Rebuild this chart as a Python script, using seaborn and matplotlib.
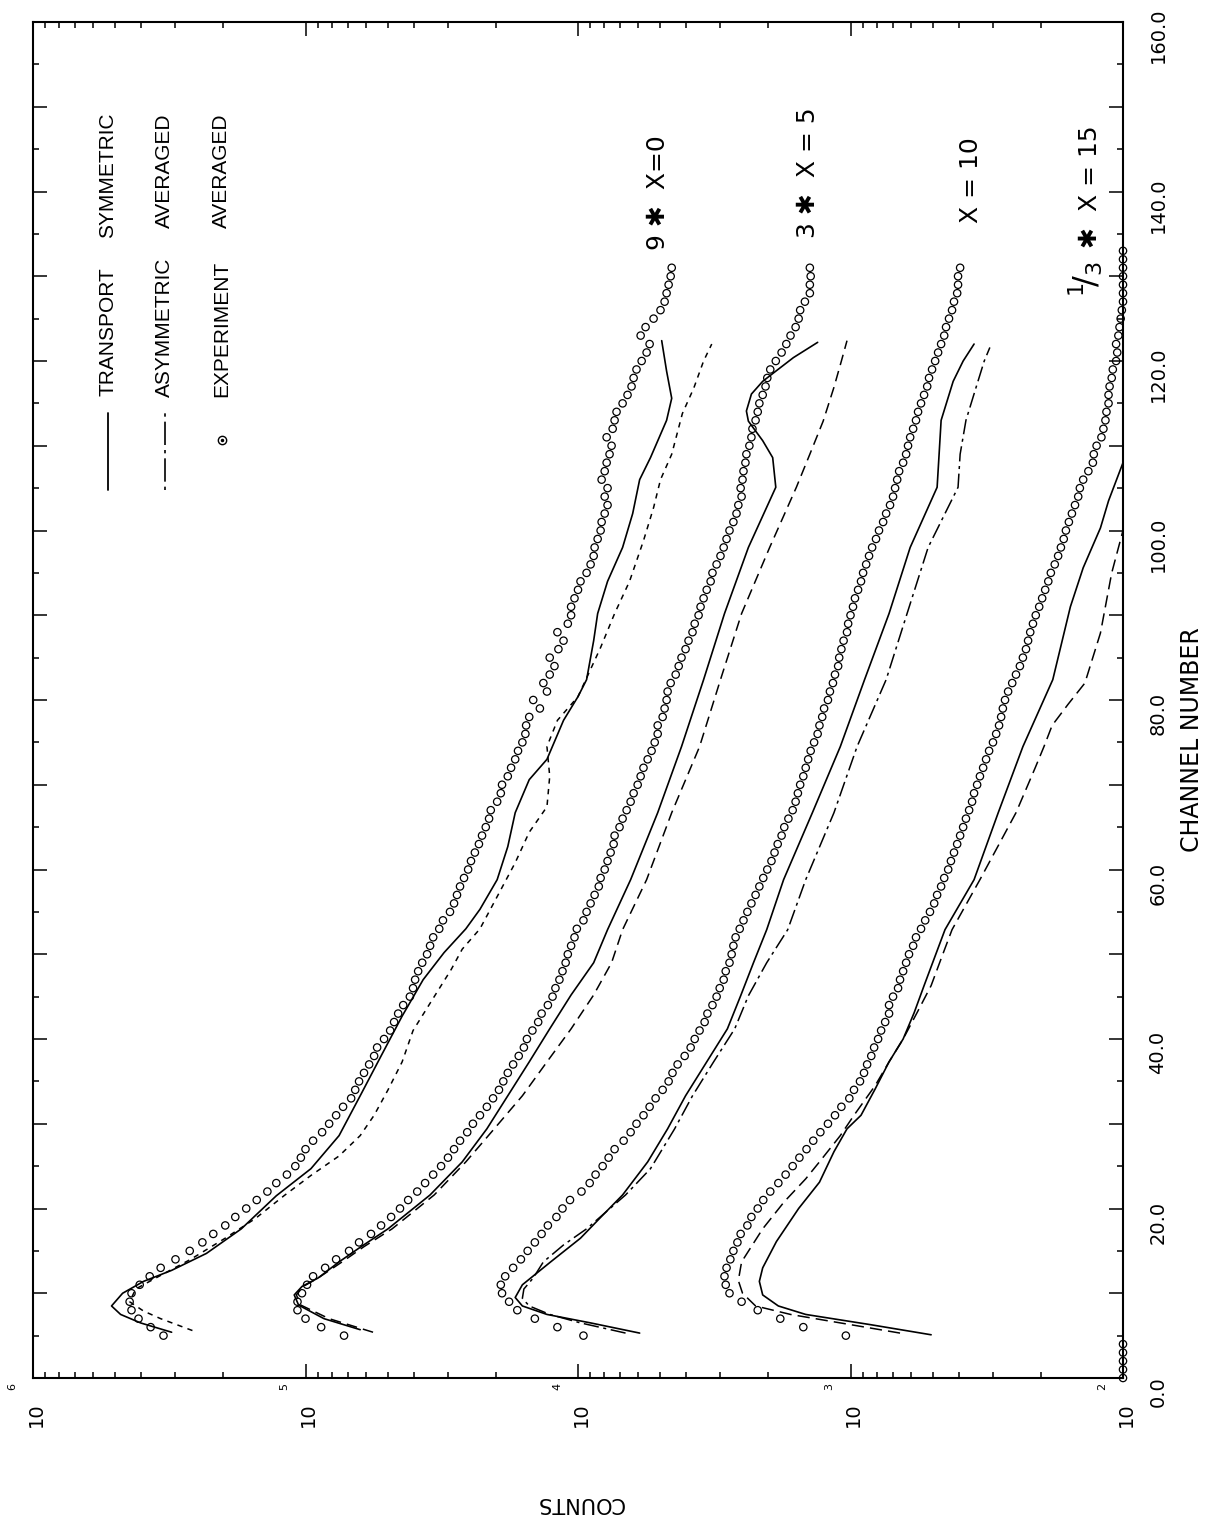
import numpy as np
import seaborn as sns
import matplotlib.pyplot as plt
from matplotlib.ticker import LogLocator, MultipleLocator, NullFormatter
from matplotlib.transforms import blended_transform_factory, offset_copy

# experiment points: one per channel
exp_channels = np.arange(5, 132)
exp_channels_x15 = np.arange(0, 134)

exp_x0 = [3.32e5, 3.70e5, 4.10e5, 4.35e5, 4.42e5, 4.35e5, 4.06e5, 3.73e5, 3.40e5, 3.00e5,
          2.66e5, 2.39e5, 2.18e5, 1.97e5, 1.81e5, 1.65e5, 1.51e5, 1.38e5, 1.28e5, 1.17e5,
          1.09e5, 1.04e5, 1.00e5, 9.38e4, 8.69e4, 8.19e4, 7.72e4, 7.28e4, 6.80e4, 6.57e4,
          6.36e4, 6.10e4, 5.84e4, 5.60e4, 5.46e4, 5.15e4, 4.89e4, 4.73e4, 4.57e4, 4.38e4,
          4.14e4, 4.03e4, 3.96e4, 3.86e4, 3.73e4, 3.58e4, 3.49e4, 3.40e4, 3.23e4, 3.13e4,
          2.95e4, 2.85e4, 2.78e4, 2.71e4, 2.62e4, 2.53e4, 2.47e4, 2.39e4, 2.31e4, 2.25e4,
          2.18e4, 2.12e4, 2.09e4, 1.98e4, 1.92e4, 1.90e4, 1.81e4, 1.76e4, 1.70e4, 1.66e4,
          1.60e4, 1.56e4, 1.55e4, 1.51e4, 1.38e4, 1.46e4, 1.30e4, 1.34e4, 1.27e4, 1.22e4,
          1.27e4, 1.18e4, 1.13e4, 1.19e4, 1.09e4, 1.06e4, 1.06e4, 1.03e4, 1.00e4, 9.79e3,
          9.30e3, 8.99e3, 8.76e3, 8.69e3, 8.47e3, 8.26e3, 8.19e3, 7.98e3, 7.79e3, 7.98e3,
          7.79e3, 8.19e3, 7.98e3, 7.85e3, 7.66e3, 7.53e3, 7.85e3, 7.46e3, 7.34e3, 7.22e3,
          6.86e3, 6.58e3, 6.36e3, 6.25e3, 6.10e3, 5.84e3, 5.60e3, 5.46e3, 5.89e3, 5.65e3,
          5.28e3, 4.98e3, 4.81e3, 4.73e3, 4.65e3, 4.57e3, 4.53e3]

exp_x5 = [7.22e4, 8.76e4, 1.00e5, 1.07e5, 1.07e5, 1.03e5, 9.87e4, 9.38e4, 8.47e4, 7.72e4,
          6.92e4, 6.36e4, 5.75e4, 5.28e4, 4.85e4, 4.50e4, 4.20e4, 3.89e4, 3.64e4, 3.40e4,
          3.18e4, 3.00e4, 2.85e4, 2.71e4, 2.55e4, 2.43e4, 2.29e4, 2.16e4, 2.05e4, 1.95e4,
          1.88e4, 1.81e4, 1.73e4, 1.65e4, 1.58e4, 1.54e4, 1.47e4, 1.40e4, 1.36e4, 1.29e4,
          1.24e4, 1.21e4, 1.17e4, 1.14e4, 1.11e4, 1.09e4, 1.06e4, 1.03e4, 1.01e4, 9.55e3,
          9.30e3, 8.99e3, 8.69e3, 8.39e3, 8.26e3, 7.98e3, 7.79e3, 7.59e3, 7.40e3, 7.34e3,
          7.04e3, 6.86e3, 6.63e3, 6.41e3, 6.25e3, 6.04e3, 5.89e3, 5.75e3, 5.55e3, 5.37e3,
          5.23e3, 5.10e3, 5.10e3, 4.89e3, 4.81e3, 4.73e3, 4.69e3, 4.57e3, 4.38e3, 4.27e3,
          4.17e3, 4.03e3, 3.93e3, 3.80e3, 3.73e3, 3.61e3, 3.55e3, 3.46e3, 3.37e3, 3.26e3,
          3.21e3, 3.10e3, 3.00e3, 2.92e3, 2.85e3, 2.78e3, 2.69e3, 2.62e3, 2.58e3, 2.51e3,
          2.53e3, 2.49e3, 2.47e3, 2.43e3, 2.41e3, 2.35e3, 2.31e3, 2.29e3, 2.23e3, 2.19e3,
          2.16e3, 2.10e3, 2.05e3, 2.02e3, 1.97e3, 1.88e3, 1.79e3, 1.72e3, 1.66e3, 1.59e3,
          1.55e3, 1.53e3, 1.47e3, 1.41e3, 1.41e3, 1.40e3, 1.41e3]

exp_x10 = [9.55e3, 1.19e4, 1.44e4, 1.67e4, 1.79e4, 1.90e4, 1.92e4, 1.85e4, 1.73e4, 1.62e4,
           1.53e4, 1.44e4, 1.36e4, 1.29e4, 1.20e4, 1.14e4, 1.07e4, 9.71e3, 9.06e3, 8.62e3,
           8.12e3, 7.72e3, 7.34e3, 6.80e3, 6.41e3, 6.10e3, 5.75e3, 5.46e3, 5.19e3, 4.89e3,
           4.65e3, 4.50e3, 4.31e3, 4.06e3, 3.86e3, 3.73e3, 3.58e3, 3.43e3, 3.35e3, 3.21e3,
           3.10e3, 3.02e3, 2.92e3, 2.87e3, 2.78e3, 2.73e3, 2.69e3, 2.64e3, 2.55e3, 2.47e3,
           2.39e3, 2.31e3, 2.23e3, 2.16e3, 2.09e3, 2.02e3, 1.95e3, 1.90e3, 1.85e3, 1.79e3,
           1.75e3, 1.69e3, 1.63e3, 1.59e3, 1.56e3, 1.53e3, 1.49e3, 1.46e3, 1.43e3, 1.40e3,
           1.36e3, 1.32e3, 1.30e3, 1.27e3, 1.25e3, 1.21e3, 1.19e3, 1.16e3, 1.14e3, 1.11e3,
           1.10e3, 1.08e3, 1.06e3, 1.03e3, 1.02e3, 1.00e3, 979, 963, 938, 915,
           899, 876, 855, 833, 806, 786, 759, 740, 716, 698,
           686, 674, 663, 641, 625, 615, 604, 589, 575, 565,
           551, 537, 523, 515, 502, 489, 477, 465, 453, 446,
           435, 424, 417, 406, 403, 403, 396]

exp_x15 = [100, 100, 100, 100, 100,
           1.04e3, 1.49e3, 1.81e3, 2.19e3, 2.51e3, 2.78e3, 2.87e3, 2.90e3, 2.85e3, 2.76e3,
           2.69e3, 2.60e3, 2.53e3, 2.39e3, 2.31e3, 2.19e3, 2.09e3, 1.97e3, 1.84e3, 1.73e3,
           1.63e3, 1.54e3, 1.45e3, 1.37e3, 1.29e3, 1.21e3, 1.14e3, 1.08e3, 1.01e3, 971,
           923, 892, 869, 839, 819, 792, 772, 746, 722, 722,
           698, 669, 658, 641, 625, 610, 589, 575, 551, 532,
           511, 493, 481, 465, 453, 438, 428, 417, 406, 396,
           386, 377, 367, 358, 352, 343, 335, 326, 318, 310,
           300, 292, 285, 280, 276, 271, 264, 255, 247, 239,
           233, 227, 223, 219, 214, 209, 203, 198, 193, 188,
           184, 178, 173, 169, 165, 162, 158, 154, 150, 146,
           144, 140, 134, 129, 128, 125, 120, 118, 116, 115,
           113, 113, 112, 110, 109, 106, 105, 106, 104, 103,
           102, 101,
           100, 100, 100, 100, 100, 100, 100]

# transport symmetric (solid) and asymmetric averaged (dashed)
sym_x0_ch = [5.4, 6.5, 7.5, 8.5, 10.0, 11.4, 12.7, 14.7, 17.6, 21.5, 24.7, 28.6, 33.3,
             38.0, 42.7, 47.0, 50.2, 53.0, 55.3, 58.8, 62.7, 66.7, 70.6, 73.0, 77.6,
             80.4, 82.4, 87.0, 90.2, 94.0, 98.0, 102.0, 106.0, 108.6, 113.0, 115.6,
             118.8, 122.4]
sym_x0 = [3.10e5, 4.03e5, 4.77e5, 5.15e5, 4.69e5, 3.93e5, 3.10e5, 2.31e5, 1.72e5, 1.28e5,
          9.55e4, 7.53e4, 6.30e4, 5.28e4, 4.42e4, 3.70e4, 3.10e4, 2.58e4, 2.29e4, 1.98e4,
          1.81e4, 1.70e4, 1.51e4, 1.30e4, 1.13e4, 1.00e4, 9.30e3, 8.76e3, 8.47e3, 7.79e3,
          6.86e3, 6.30e3, 5.94e3, 5.42e3, 4.73e3, 4.53e3, 4.73e3, 4.93e3]
asym_x0_ch = [5.6, 7.0, 7.9, 9.0, 10.5, 12.0, 14.0, 16.5, 18.8, 21.5, 23.9, 26.2, 28.6,
              31.0, 34.0, 37.3, 41.0, 45.0, 48.2, 50.6, 53.0, 56.8, 60.8, 64.4, 67.4,
              71.0, 74.5, 77.6, 80.4, 86.2, 90.2, 94.0, 98.8, 102.7, 106.0, 109.0,
              113.8, 116.8, 120.0, 122.0]
asym_x0 = [2.60e5, 3.40e5, 3.93e5, 4.42e5, 4.20e5, 3.45e5, 2.64e5, 1.97e5, 1.53e5, 1.20e5,
           9.55e4, 7.53e4, 6.30e4, 5.60e4, 4.98e4, 4.42e4, 4.03e4, 3.37e4, 2.92e4, 2.66e4,
           2.29e4, 1.98e4, 1.70e4, 1.51e4, 1.30e4, 1.27e4, 1.30e4, 1.19e4, 1.00e4, 8.26e3,
           7.34e3, 6.47e3, 5.75e3, 5.28e3, 4.98e3, 4.53e3, 4.14e3, 3.76e3, 3.46e3, 3.23e3]

sym_x5_ch = [5.7, 7.0, 8.6, 9.8, 10.8, 11.8, 13.7, 15.5, 17.6, 21.6, 25.5, 29.4, 33.3,
             37.3, 41.2, 45.2, 49.0, 52.9, 58.8, 66.7, 74.5, 82.4, 90.2, 98.0, 105.1,
             108.6, 110.6, 112.9, 114.1, 116.1, 117.6, 118.8, 120.4, 122.2]
sym_x5 = [6.30e4, 8.55e4, 1.06e5, 1.10e5, 1.03e5, 8.99e4, 7.53e4, 6.25e4, 4.98e4, 3.49e4,
          2.66e4, 2.16e4, 1.81e4, 1.51e4, 1.27e4, 1.06e4, 8.76e3, 7.79e3, 6.41e3, 5.10e3,
          4.17e3, 3.46e3, 2.90e3, 2.37e3, 1.88e3, 1.93e3, 2.10e3, 2.37e3, 2.41e3, 2.31e3,
          2.10e3, 1.88e3, 1.62e3, 1.32e3]
asym_x5_ch = [5.4, 7.0, 8.6, 9.8, 10.8, 11.8, 13.7, 15.5, 17.6, 21.6, 25.5, 29.4, 33.3,
              37.3, 41.2, 45.2, 49.0, 52.9, 58.8, 66.7, 74.5, 82.4, 90.2, 98.0, 105.1,
              109.0, 112.9, 116.9, 120.0, 122.4]
asym_x5 = [5.65e4, 8.19e4, 1.04e5, 1.08e5, 1.02e5, 8.99e4, 7.34e4, 6.10e4, 4.81e4, 3.37e4,
           2.58e4, 2.03e4, 1.60e4, 1.30e4, 1.06e4, 8.76e3, 7.53e3, 6.86e3, 5.60e3, 4.53e3,
           3.58e3, 3.00e3, 2.51e3, 1.98e3, 1.58e3, 1.41e3, 1.26e3, 1.15e3, 1.08e3, 1.03e3]

sym_x10_ch = [5.3, 6.5, 7.5, 8.5, 9.5, 11.0, 13.7, 16.5, 19.2, 21.6, 25.5, 29.4, 33.3,
              37.3, 41.2, 45.1, 49.0, 52.9, 58.8, 66.7, 74.5, 82.4, 90.2, 98.0, 105.1,
              109.0, 113.0, 117.6, 120.0, 122.0]
sym_x10 = [5.94e3, 8.99e3, 1.30e4, 1.60e4, 1.70e4, 1.60e4, 1.26e4, 9.79e3, 8.12e3, 6.86e3,
           5.55e3, 4.69e3, 4.03e3, 3.37e3, 2.83e3, 2.53e3, 2.27e3, 2.03e3, 1.76e3, 1.38e3,
           1.09e3, 888, 722, 604, 481, 473, 465, 420, 386, 352]
asym_x10_ch = [5.3, 6.5, 7.5, 8.5, 9.4, 10.5, 11.8, 13.7, 15.7, 17.6, 21.6, 24.7, 29.4,
               33.3, 37.3, 41.2, 45.1, 49.0, 52.9, 58.8, 66.7, 74.5, 82.4, 90.2, 98.0,
               105.1, 109.0, 113.0, 116.9, 120.0, 121.6]
asym_x10 = [6.69e3, 9.79e3, 1.27e4, 1.51e4, 1.60e4, 1.58e4, 1.46e4, 1.34e4, 1.13e4, 9.30e3,
            6.69e3, 5.42e3, 4.42e3, 3.80e3, 3.18e3, 2.66e3, 2.37e3, 2.03e3, 1.70e3, 1.46e3,
            1.15e3, 946, 740, 620, 519, 403, 396, 377, 346, 323, 308]

sym_x15_ch = [5.1, 6.3, 7.5, 8.5, 9.8, 11.4, 13.0, 16.1, 20.0, 23.1, 26.7, 29.4, 31.0,
              34.1, 37.3, 40.0, 43.1, 46.3, 49.8, 52.9, 58.8, 66.7, 74.5, 82.4, 91.0,
              95.6, 100.3, 103.5, 108.0]
sym_x15 = [506, 847, 1.46e3, 1.84e3, 2.10e3, 2.16e3, 2.10e3, 1.87e3, 1.55e3, 1.30e3,
           1.15e3, 1.03e3, 915, 812, 722, 641, 584, 537, 489, 450,
           352, 287, 233, 181, 156, 140, 121, 113, 100]
asym_x15_ch = [5.3, 6.5, 7.5, 8.5, 10.0, 11.5, 13.7, 17.6, 20.8, 23.5, 25.5, 28.6, 31.0,
               34.5, 37.3, 40.0, 43.1, 46.3, 49.8, 52.9, 58.8, 66.7, 72.0, 74.5, 77.0,
               79.5, 82.0, 87.9, 95.0, 100.0]
asym_x15 = [658, 1.09e3, 1.66e3, 2.23e3, 2.49e3, 2.58e3, 2.51e3, 2.10e3, 1.75e3, 1.46e3,
            1.30e3, 1.09e3, 971, 812, 722, 641, 570, 506, 461, 424,
            335, 247, 210, 195, 182, 159, 138, 121, 110, 100]

decade_ticks = [1e6, 1e5, 1e4, 1e3, 1e2]
decade_exps = ["6", "5", "4", "3", "2"]
channel_ticks = [0, 20, 40, 60, 80, 100, 120, 140, 160]
channel_labels = ["0.0", "20.0", "40.0", "60.0", "80.0", "100.0", "120.0", "140.0", "160.0"]

sns.set_theme(style="ticks")
plt.rcParams["font.family"] = ["DejaVu Sans"]
plt.rcParams["text.color"] = "black"

W, H = 1213, 1524
fig = plt.figure(figsize=(W / 100, H / 100), dpi=100)
ax = fig.add_axes([33 / W, (H - 1378) / H, 1090 / W, 1356 / H])
ax.set_xscale("log")
ax.set_xlim(1e6, 1e2)
ax.set_ylim(0, 160)

groups = [
    (sym_x0_ch, sym_x0, asym_x0_ch, asym_x0, exp_channels, exp_x0, (0, (3.5, 3.5))),
    (sym_x5_ch, sym_x5, asym_x5_ch, asym_x5, exp_channels, exp_x5, (0, (7, 4))),
    (sym_x10_ch, sym_x10, asym_x10_ch, asym_x10, exp_channels, exp_x10, (0, (10, 3, 2, 3))),
    (sym_x15_ch, sym_x15, asym_x15_ch, asym_x15, exp_channels_x15, exp_x15, (0, (8, 4))),
]
for s_ch, s_v, a_ch, a_v, e_ch, e_v, dash in groups:
    sns.lineplot(x=s_v, y=s_ch, sort=False, estimator=None, color="black",
                 linewidth=1.2, ax=ax)
    sns.lineplot(x=a_v, y=a_ch, sort=False, estimator=None, color="black",
                 linewidth=1.1, linestyle=dash, ax=ax)
    sns.scatterplot(x=e_v, y=e_ch, marker="o", s=28, facecolor="none",
                    edgecolor="black", linewidth=0.9, ax=ax, clip_on=False, zorder=3)

# ticks, all pointing inward
ax.xaxis.set_major_locator(LogLocator(base=10, numticks=10))
ax.xaxis.set_minor_locator(LogLocator(base=10, subs=np.arange(2, 10), numticks=40))
ax.xaxis.set_major_formatter(NullFormatter())
ax.xaxis.set_minor_formatter(NullFormatter())
ax.yaxis.set_major_locator(MultipleLocator(10))
ax.yaxis.set_minor_locator(MultipleLocator(5))
ax.tick_params(which="both", direction="in", top=True, bottom=True, left=True, right=True,
               labelbottom=False, labelleft=False, color="black", width=1.1)
ax.tick_params(which="major", length=10)
ax.tick_params(which="minor", length=4.5)
for sp in ax.spines.values():
    sp.set_color("black")
    sp.set_linewidth(1.5)
ax.set_xlabel("")
ax.set_ylabel("")

# count labels (rotated with the whole plot)
tx = blended_transform_factory(ax.transData, ax.transAxes)
lab_tr = offset_copy(tx, fig=fig, x=3, y=0, units="dots")
exp_tr = offset_copy(tx, fig=fig, x=-21, y=29, units="dots")
for v, e in zip(decade_ticks, decade_exps):
    ax.text(v, -0.0273, "10", transform=lab_tr, rotation=90, rotation_mode="anchor",
            ha="center", va="center", fontsize=14, color="black")
    ax.text(v, -0.0273, e, transform=exp_tr, rotation=90, rotation_mode="anchor",
            ha="center", va="center", fontsize=8, color="black")

ty = blended_transform_factory(ax.transAxes, ax.transData)
for c, lab in zip(channel_ticks, channel_labels):
    ax.text(1.032, c - 1.6, lab, transform=ty, rotation=90, rotation_mode="anchor",
            ha="center", va="center", fontsize=14, color="black")

ax.text(1.063, 0.4705, "CHANNEL NUMBER", transform=ax.transAxes, rotation=90,
        rotation_mode="anchor", ha="center", va="center", fontsize=17, color="black")
fig.text(580 / W, 1 - 1503 / H, "COUNTS", rotation=180, rotation_mode="anchor",
         ha="center", va="center", fontsize=15, color="black")

# legend
ax.plot([0.0688, 0.0688], [0.655, 0.712], color="black", lw=1.3, transform=ax.transAxes)
ax.plot([0.121, 0.121], [0.655, 0.712], color="black", lw=1.2,
        linestyle=(0, (2, 3, 14, 3)), transform=ax.transAxes)
ax.plot([0.173], [0.692], marker="o", ms=6, mfc="none", mec="black", mew=1.0,
        transform=ax.transAxes)
ax.plot([0.173], [0.692], marker="o", ms=1.5, color="black", transform=ax.transAxes)
legend_rows = [(0.0688, "TRANSPORT", 0.724, "SYMMETRIC", 0.841),
               (0.121, "ASYMMETRIC", 0.7235, "AVERAGED", 0.848),
               (0.173, "EXPERIMENT", 0.7235, "AVERAGED", 0.848)]
for x, w1, y1, w2, y2 in legend_rows:
    for w, y in ((w1, y1), (w2, y2)):
        ax.text(x, y, w, transform=ax.transAxes, rotation=90, rotation_mode="anchor",
                ha="left", va="center", fontsize=15, color="black",
                family=["Liberation Sans", "DejaVu Sans"])

# curve labels
curve_labels = [(0.573, 0.832, "9 \u2731  X=0"),
                (0.711, 0.841, "3 \u2731  X = 5"),
                (0.861, 0.852, "X = 10"),
                (0.970, 0.8333, "\u2731  X = 15")]
for x, y, t in curve_labels:
    ax.text(x, y, t, transform=ax.transAxes, rotation=90, rotation_mode="anchor",
            ha="left", va="center", fontsize=18, color="black")
ax.text(0.966, 0.797, "$^1\\!/_3$", transform=ax.transAxes, rotation=90,
        rotation_mode="anchor", ha="left", va="center", fontsize=23, color="black")

fig.savefig("out.png", dpi=100, facecolor="white")
